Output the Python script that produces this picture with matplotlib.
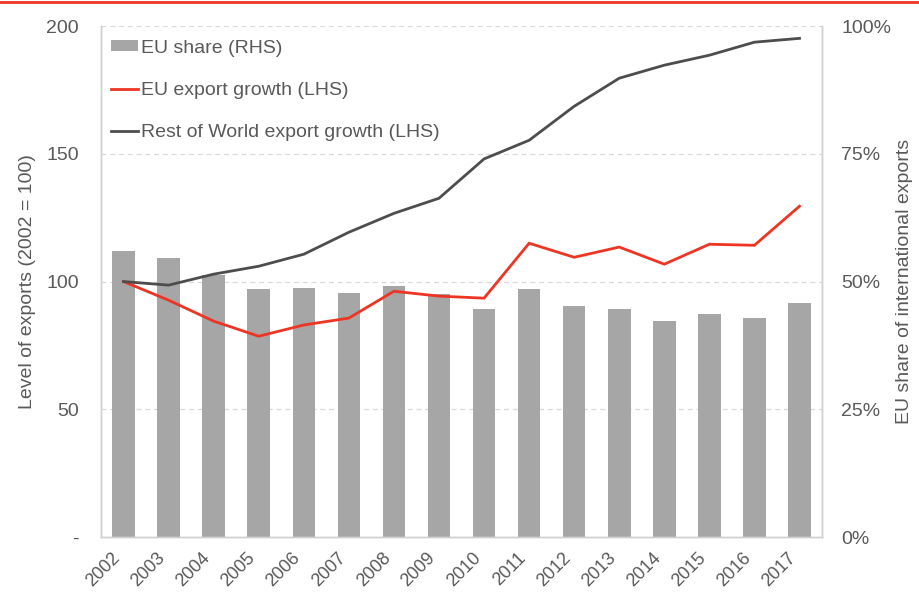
import matplotlib
matplotlib.use('Agg')
import matplotlib.pyplot as plt
from matplotlib.lines import Line2D
import numpy as np

plt.rcParams['font.family'] = ['Liberation Sans', 'DejaVu Sans']

# ── Data ────────────────────────────────────────────────────────────────────
YEARS = [str(y) for y in range(2002, 2018)]
EU_SHARE = [56.0, 54.6, 51.3, 48.5, 48.7, 47.7, 49.1, 47.5,
            44.6, 48.5, 45.2, 44.6, 42.3, 43.6, 42.9, 45.8]
EU_GROWTH = [100, 92.7, 84.5, 78.6, 83.0, 85.7, 96.2, 94.3,
             93.5, 115.0, 109.5, 113.5, 106.8, 114.6, 114.2, 129.5]
ROW_GROWTH = [100, 98.6, 102.9, 106.0, 110.7, 119.3, 126.7, 132.6,
              148.0, 155.3, 168.6, 179.6, 184.7, 188.6, 193.7, 195.2]
LEFT_TICKS = [0, 50, 100, 150, 200]
LEFT_LABELS = ["-", "50", "100", "150", "200"]
RIGHT_TICKS = [0, 25, 50, 75, 100]
RIGHT_LABELS = ["0%", "25%", "50%", "75%", "100%"]

# ── Style ───────────────────────────────────────────────────────────────────
TXT = "#595959"
BAR = "#A6A6A6"
RED = "#EE3524"
DARK = "#4D4D4D"
GRID = "#D9D9D9"
SPINE = "#D0D0D0"

fig = plt.figure(figsize=(9.2, 5.93), dpi=100)
fig.patch.set_facecolor("white")

# bars axis (RHS scale) drawn first, lines axis on top
ax_bar = fig.add_axes([0.1098, 0.0944, 0.7837, 0.8616])
ax_line = ax_bar.twinx()

x = np.arange(len(YEARS))
ax_bar.bar(x, EU_SHARE, width=0.5, color=BAR, zorder=2)
ax_bar.set_ylim(0, 100)
ax_bar.set_xlim(-0.5, len(YEARS) - 0.5)
for v in RIGHT_TICKS[1:]:
    ax_bar.axhline(v, color=GRID, lw=0.9, ls=(0, (4, 3)), zorder=1)

ax_line.plot(x, EU_GROWTH, color=RED, lw=2.0, solid_joinstyle='miter')
ax_line.plot(x, ROW_GROWTH, color=DARK, lw=2.0, solid_joinstyle='miter')
ax_line.set_ylim(0, 200)

# swap sides: lines on the left, bars on the right
ax_line.yaxis.tick_left()
ax_line.yaxis.set_label_position('left')
ax_bar.yaxis.tick_right()
ax_bar.yaxis.set_label_position('right')

ax_line.set_yticks(LEFT_TICKS)
ax_line.set_yticklabels(LEFT_LABELS)
ax_bar.set_yticks(RIGHT_TICKS)
ax_bar.set_yticklabels(RIGHT_LABELS)
ax_bar.set_xticks(x)
ax_bar.set_xticklabels(YEARS, rotation=45, ha='right')

for a in (ax_bar, ax_line):
    a.tick_params(axis='both', length=0, colors=TXT, labelsize=14)
    a.spines['top'].set_visible(False)
    for s in ('left', 'right', 'bottom'):
        a.spines[s].set_color(SPINE)
        a.spines[s].set_linewidth(1.0)
ax_bar.tick_params(axis='x', labelsize=13, pad=9)
ax_line.tick_params(axis='y', pad=16)
ax_bar.tick_params(axis='y', pad=14)

ax_line.set_ylabel("Level of exports (2002 = 100)", color=TXT, fontsize=14, labelpad=7)
ax_bar.set_ylabel("EU share of international exports", color=TXT, fontsize=14,
                  rotation=90, labelpad=3)

# legend
handles = [
    plt.Rectangle((0, 0), 1, 1, facecolor=BAR, edgecolor='none'),
    Line2D([0], [0], color=RED, lw=2.0),
    Line2D([0], [0], color=DARK, lw=2.0),
]
labels = ["EU share (RHS)", "EU export growth (LHS)", "Rest of World export growth (LHS)"]
leg = ax_line.legend(handles, labels, loc='upper left', bbox_to_anchor=(-0.011, 1.008),
                     frameon=False, fontsize=14, handlelength=1.4, handleheight=0.5,
                     handletextpad=0.15, labelspacing=1.3)
for t in leg.get_texts():
    t.set_color(TXT)

# red rule across the top
fig.add_artist(Line2D([0, 1], [0.996, 0.996], color=RED, lw=2.0,
                      transform=fig.transFigure))

fig.savefig("out.png", dpi=100, facecolor="white")
